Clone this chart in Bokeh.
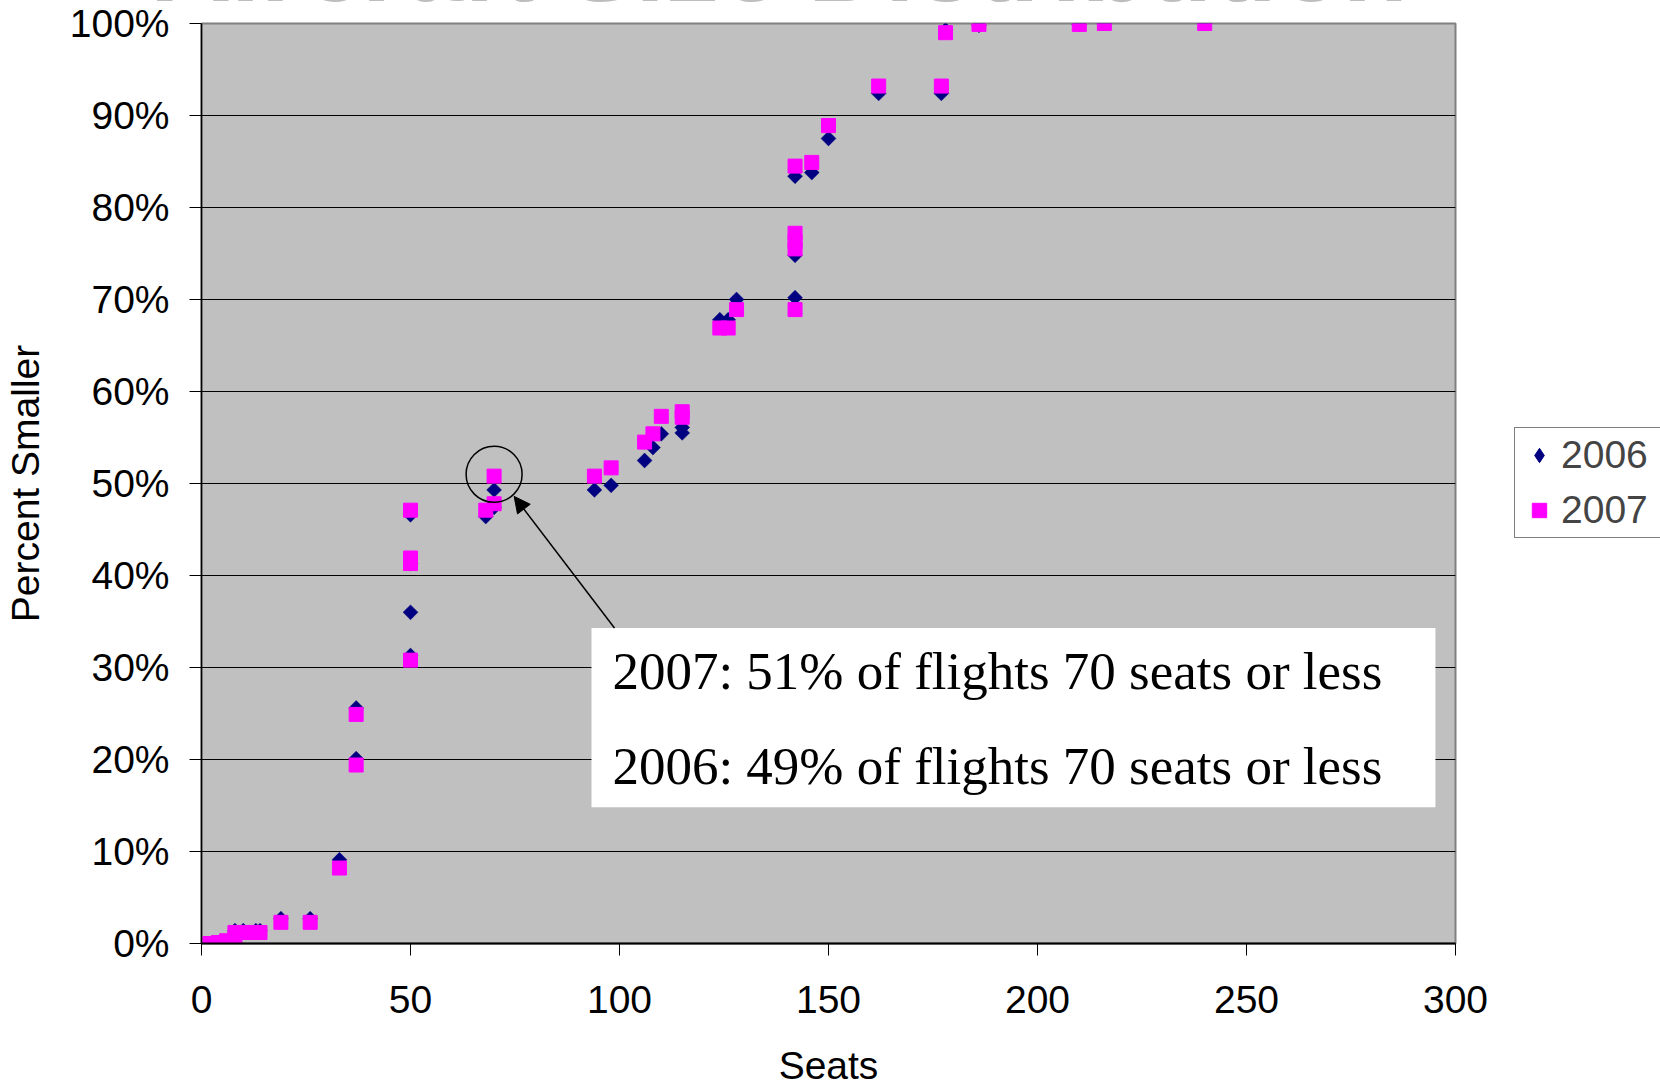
import numpy as np
from bokeh.plotting import figure
from bokeh.layouts import column
from bokeh.models import (Legend, LegendItem, Label, BoxAnnotation, Arrow,
                          NormalHead, FixedTicker, Div)
from bokeh.embed import file_html
from bokeh.resources import INLINE

# ---------------- data ----------------
seats_2006 = [2, 4, 6, 7, 8, 10, 13, 14, 19, 26, 33, 37, 37, 50, 50, 50, 50,
              68, 70, 70, 94, 98, 106, 108, 110, 115, 115, 124, 126, 128,
              142, 142, 142, 146, 150, 162, 177, 178, 186, 210, 216, 240]
pct_2006 = [0.0, 0.1, 0.2, 0.4, 1.4, 1.4, 1.4, 1.4, 2.7, 2.7, 9.1, 20.1, 25.6,
            31.3, 36.0, 41.3, 46.6, 46.4, 47.4, 49.3, 49.3, 49.8, 52.5, 53.9,
            55.4, 55.5, 56.1, 67.8, 67.8, 70.0, 70.2, 74.8, 83.4, 83.8, 87.5,
            92.4, 92.4, 99.3, 99.8, 99.9, 100.0, 100.0]

seats_2007 = [2, 4, 6, 8, 8, 10, 13, 14, 19, 26, 33, 37, 37, 50, 50, 50, 50,
              68, 70, 70, 94, 98, 106, 108, 110, 115, 115, 124, 126, 128,
              142, 142, 142, 142, 142, 146, 150, 162, 177, 178, 186, 210, 216,
              240]
pct_2007 = [0.0, 0.1, 0.3, 0.6, 1.2, 1.2, 1.2, 1.2, 2.3, 2.3, 8.2, 19.4, 24.9,
            30.8, 41.3, 41.9, 47.1, 47.1, 47.8, 50.8, 50.8, 51.7, 54.5, 55.4,
            57.3, 57.2, 57.8, 66.9, 66.9, 68.9, 68.9, 75.5, 76.3, 77.2, 84.5,
            84.9, 88.9, 93.2, 93.2, 99.0, 99.9, 99.9, 100.0, 100.0]

series_names = ["2006", "2007"]
x_ticks = [0, 50, 100, 150, 200, 250, 300]
y_ticks = [0, 10, 20, 30, 40, 50, 60, 70, 80, 90, 100]
y_tick_labels = ["0%", "10%", "20%", "30%", "40%", "50%", "60%", "70%",
                 "80%", "90%", "100%"]
x_label = "Seats"
y_label = "Percent Smaller"
title_text = "Aircraft Size Distribution"
note_lines = ["2007: 51% of flights 70 seats or less",
              "2006: 49% of flights 70 seats or less"]
highlight_seats = 70
highlight_pct = 51

# ---------------- figure ----------------
FONT = "Liberation Sans"
FS = "39px"

p = figure(frame_width=1254, frame_height=920,
           x_range=(0, 300), y_range=(0, 100),
           min_border_left=201, min_border_right=205,
           min_border_top=23, min_border_bottom=141,
           output_backend="svg", toolbar_location=None,
           background_fill_color="#C0C0C0",
           border_fill_color="white", border_fill_alpha=0.0,
           outline_line_color="#808080", outline_line_width=2)

# grid
p.xgrid.grid_line_color = None
p.ygrid.ticker = FixedTicker(ticks=y_ticks[1:-1])
p.ygrid.grid_line_color = "black"
p.ygrid.grid_line_width = 1

# axes
for ax in (p.xaxis[0], p.yaxis[0]):
    ax.major_tick_out = 12
    ax.major_tick_in = 0
    ax.minor_tick_line_color = None
    ax.major_tick_line_color = "black"
    ax.axis_line_color = "black"
    ax.major_label_text_font = FONT
    ax.major_label_text_font_size = FS
    ax.major_label_text_color = "black"
    ax.axis_label_text_font = FONT
    ax.axis_label_text_font_size = FS
    ax.axis_label_text_font_style = "normal"
    ax.axis_label_text_color = "black"

p.xaxis.ticker = FixedTicker(ticks=x_ticks)
p.xaxis.axis_label = x_label
p.xaxis.axis_line_width = 2
p.xaxis.major_label_standoff = 30
p.xaxis.axis_label_standoff = 28

p.yaxis.ticker = FixedTicker(ticks=y_ticks)
p.yaxis.major_label_overrides = {t: s for t, s in zip(y_ticks, y_tick_labels)}
p.yaxis.axis_label = y_label
p.yaxis.axis_line_width = 1.5
p.yaxis.major_label_standoff = 20
p.yaxis.axis_label_standoff = 20

# series
r06 = p.scatter(seats_2006, pct_2006, marker="square", angle=np.pi / 4,
                size=10.5, fill_color="#000080", line_color="#000080",
                line_width=0.5)
r07 = p.scatter(seats_2007, pct_2007, marker="square", size=14,
                fill_color="#FF00FF", line_color="#FF00FF", line_width=1)
# diamond symbol used only for the legend entry of 2006
r06_key = p.scatter(seats_2006, pct_2006, marker="diamond", size=15,
                    fill_color="#000080", line_color="#000080",
                    visible=False)

# highlight circle
p.scatter([highlight_seats], [highlight_pct], marker="circle", size=56,
          fill_color=None, line_color="black", line_width=1.5)

# annotation box + text
p.add_layout(BoxAnnotation(left=93.3, right=295.2, bottom=14.8, top=34.3,
                           fill_color="white", fill_alpha=1.0,
                           line_color=None))
p.add_layout(Arrow(end=NormalHead(size=16, fill_color="black",
                                  line_color="black"),
                   x_start=98.8, y_start=34.3, x_end=74.8, y_end=48.6,
                   line_color="black", line_width=1.5))
for txt, yy in zip(note_lines, [29.6, 19.3]):
    p.add_layout(Label(x=98.3, y=yy, text=txt, text_font="Liberation Serif",
                       text_font_size="53px", text_color="black",
                       text_baseline="alphabetic"))

# legend (in the right side panel, running off the right edge as in the original)
legend = Legend(items=[LegendItem(label=series_names[0], renderers=[r06_key]),
                       LegendItem(label=series_names[1], renderers=[r07])],
                location=(59, 405),
                label_text_font=FONT, label_text_font_size=FS,
                glyph_width=38, glyph_height=36, label_height=40,
                label_width=100,
                label_standoff=3, spacing=11, padding=5, margin=0,
                border_line_color="black", border_line_width=1,
                background_fill_color="white", background_fill_alpha=1.0)
p.add_layout(legend, "right")

# title, cut off at the top edge as in the original (zero-height holder)
title_div = Div(
    text=('<div style="position:relative; top:-89px; left:159px; '
          'white-space:nowrap; font-family:\'Liberation Sans\'; '
          'font-weight:bold; font-style:italic; font-size:107px; '
          'line-height:1; color:#BDBDBD;">' + title_text + '</div>'),
    width=1660, height=0, margin=0, styles={"overflow": "visible"})

layout = column(title_div, p, spacing=0)
open("out.html", "w").write(file_html(layout, INLINE))
